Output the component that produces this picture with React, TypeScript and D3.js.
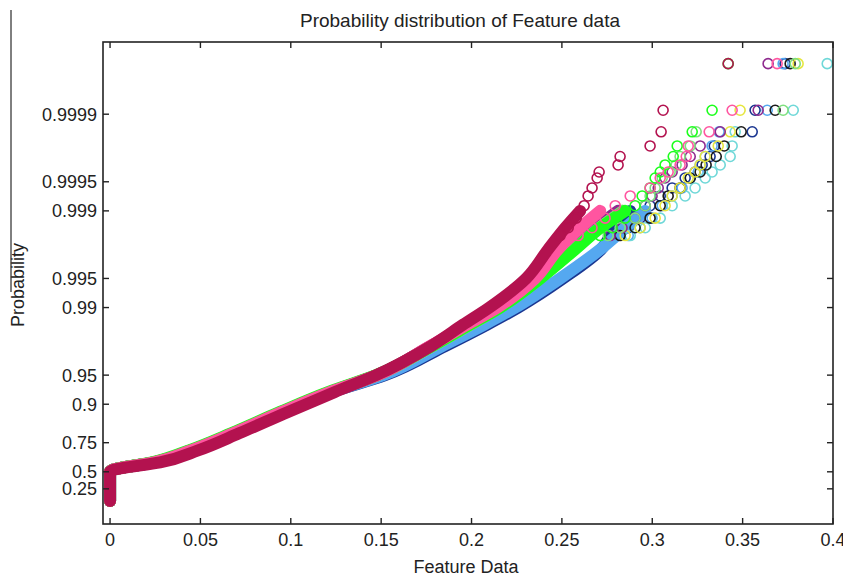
import React from 'react';
import * as d3 from 'd3';

const W = 843;
const H = 576;
const plot = { left: 103, right: 833, top: 42, bottom: 524 };

const bodyProbs = [0.0001, 0.5, 0.52, 0.6, 0.7, 0.8, 0.88, 0.925, 0.95, 0.975, 0.985, 0.99, 0.995, 0.9975, 0.9985, 0.999];
// plotting positions of the largest samples (rank 1,2,3,4,5,6,7,8,10,12,15,20,25,30)
const tailProbs = [0.99997, 0.999909, 0.999848, 0.999787, 0.999726, 0.999665, 0.999604, 0.999543, 0.999421, 0.999299, 0.999116, 0.998811, 0.998506, 0.998201];

const xTicks = [0, 0.05, 0.1, 0.15, 0.2, 0.25, 0.3, 0.35, 0.4];
const xTickLabels = ['0', '0.05', '0.1', '0.15', '0.2', '0.25', '0.3', '0.35', '0.4'];
const yTicks = [0.25, 0.5, 0.75, 0.9, 0.95, 0.99, 0.995, 0.999, 0.9995, 0.9999];
const yTickLabels = ['0.25', '0.5', '0.75', '0.9', '0.95', '0.99', '0.995', '0.999', '0.9995', '0.9999'];

const seriesNames = ['navy', 'lightblue', 'cyan', 'black', 'yellow', 'purple', 'lightgreen', 'lime', 'pink', 'crimson'];
const seriesColors = ['#1b3791', '#55a8f0', '#6fd8d8', '#1a1a1a', '#e6e640', '#8e2a8e', '#7fe07f', '#1cff1c', '#ff55a0', '#b3124f'];

const navyBody = [0, 0, 0.0011, 0.0249, 0.0454, 0.0686, 0.0957, 0.1223, 0.1522, 0.1854, 0.2086, 0.2258, 0.2507, 0.2717, 0.2795, 0.2878];
const lightblueBody = [0, 0, 0.0011, 0.0249, 0.0454, 0.0686, 0.0957, 0.1223, 0.1511, 0.1837, 0.207, 0.2241, 0.249, 0.2712, 0.285, 0.2961];
const cyanBody = [0, 0, 0.0011, 0.0243, 0.0448, 0.0681, 0.0952, 0.1217, 0.1478, 0.1782, 0.1987, 0.2147, 0.2369, 0.2557, 0.2701, 0.2833];
const blackBody = [0, 0, 0.0011, 0.0243, 0.0448, 0.0681, 0.0952, 0.1217, 0.1478, 0.1776, 0.1987, 0.2147, 0.2363, 0.2551, 0.2695, 0.2822];
const yellowBody = [0, 0, 0.0011, 0.0243, 0.0448, 0.0681, 0.0952, 0.1217, 0.1478, 0.1782, 0.1992, 0.2153, 0.2374, 0.2562, 0.2701, 0.2833];
const purpleBody = [0, 0, 0.0011, 0.0243, 0.0448, 0.0681, 0.0952, 0.1217, 0.1478, 0.1776, 0.1981, 0.2142, 0.2357, 0.2546, 0.2684, 0.2811];
const lightgreenBody = [0, 0, 0.0011, 0.0243, 0.0448, 0.0681, 0.0952, 0.1217, 0.1478, 0.1782, 0.1992, 0.2153, 0.2374, 0.2568, 0.2706, 0.2839];
const limeBody = [0, 0, 0.0011, 0.0232, 0.0437, 0.067, 0.0941, 0.1206, 0.1472, 0.1782, 0.1992, 0.2158, 0.238, 0.2573, 0.2712, 0.285];
const pinkBody = [0, 0, 0.0011, 0.0243, 0.0448, 0.0681, 0.0952, 0.1217, 0.1478, 0.1771, 0.1976, 0.2142, 0.2352, 0.2479, 0.2601, 0.2712];
const crimsonBody = [0, 0, 0.0017, 0.0277, 0.0487, 0.0714, 0.0985, 0.1242, 0.1472, 0.1776, 0.1954, 0.2098, 0.2302, 0.2424, 0.2518, 0.2601];

const navyTail = [0.3735, 0.3569, 0.3553, 0.3343, 0.332, 0.3276, 0.3237, 0.3182, 0.311, 0.3044, 0.2988, 0.2933, 0.2867, 0.2795];
const lightblueTail = [0.3724, 0.3636, 0.337, 0.3331, 0.3293, 0.3265, 0.3254, 0.321, 0.3165, 0.311, 0.3055, 0.2999, 0.2933, 0.2867];
const cyanTail = [0.3968, 0.378, 0.3459, 0.3442, 0.3431, 0.3376, 0.3331, 0.3293, 0.3237, 0.3182, 0.311, 0.3044, 0.2961, 0.2878];
const blackTail = [0.3763, 0.368, 0.3492, 0.3398, 0.3354, 0.3298, 0.3265, 0.321, 0.3154, 0.3088, 0.3044, 0.2988, 0.2905, 0.2822];
const yellowTail = [0.3807, 0.3486, 0.3431, 0.3365, 0.3293, 0.3265, 0.3237, 0.3199, 0.3154, 0.311, 0.3071, 0.3016, 0.2933, 0.285];
const purpleTail = [0.3641, 0.3586, 0.3376, 0.3265, 0.321, 0.3165, 0.311, 0.3071, 0.3033, 0.2999, 0.2961, 0.2905, 0.2833, 0.2767];
const lightgreenTail = [0.3791, 0.3724, 0.3243, 0.321, 0.3154, 0.3132, 0.3099, 0.3055, 0.3016, 0.2988, 0.2961, 0.2905, 0.2822, 0.2756];
const limeTail = [0.342, 0.3331, 0.3221, 0.3138, 0.3116, 0.3071, 0.3044, 0.3016, 0.2988, 0.2944, 0.2905, 0.285, 0.2778, 0.2712];
const pinkTail = [0.3691, 0.3442, 0.3315, 0.3199, 0.3188, 0.3154, 0.3088, 0.3044, 0.2988, 0.2878, 0.2795, 0.2739, 0.2667, 0.259];
const crimsonTail = [0.342, 0.306, 0.3049, 0.2988, 0.2822, 0.2811, 0.2706, 0.2695, 0.2667, 0.2645, 0.2623, 0.2579, 0.2535, 0.249];

const bodies = [navyBody, lightblueBody, cyanBody, blackBody, yellowBody, purpleBody, lightgreenBody, limeBody, pinkBody, crimsonBody];
const tails = [navyTail, lightblueTail, cyanTail, blackTail, yellowTail, purpleTail, lightgreenTail, limeTail, pinkTail, crimsonTail];

const font = '"Liberation Sans", Arial, sans-serif';

// exponential probability paper: linear in -ln(1-p)
const probT = (p: number) => -Math.log(1 - p);

export default function App() {
  const x = d3.scaleLinear().domain([-0.0039, 0.4]).range([plot.left, plot.right]);
  const yT = d3.scaleLinear().domain([-0.55, 10.93]).range([plot.bottom, plot.top]);
  const y = (p: number) => yT(probT(p));

  const line = d3.line<[number, number]>()
    .x(d => x(d[0]))
    .y(d => y(d[1]))
    .curve(d3.curveMonotoneY);

  const tick = 6;

  return (
    <svg width={W} height={H} style={{ position: 'absolute', left: 0, top: 0, background: '#fff' }}>
      <rect x={0} y={0} width={W} height={H} fill="#fff" />
      <line x1={11} x2={11} y1={10} y2={292} stroke="#000" strokeWidth={1} />

      <g>
        {seriesNames.map((name, i) => {
          const pts: [number, number][] = bodies[i].map((v, j) => [v, bodyProbs[j]]);
          return (
            <g key={name}>
              <path d={line(pts) || ''} fill="none" stroke={seriesColors[i]} strokeWidth={12}
                strokeLinecap="round" strokeLinejoin="round" />
              {tails[i].map((v, j) => (
                <circle key={j} cx={x(v)} cy={y(tailProbs[j])} r={5}
                  fill="none" stroke={seriesColors[i]} strokeWidth={1.6} />
              ))}
            </g>
          );
        })}
      </g>

      <rect x={plot.left} y={plot.top} width={plot.right - plot.left} height={plot.bottom - plot.top}
        fill="none" stroke="#222" strokeWidth={1.6} />

      {xTicks.map((t, i) => (
        <g key={'x' + i}>
          <line x1={x(t)} x2={x(t)} y1={plot.bottom} y2={plot.bottom - tick} stroke="#222" strokeWidth={1.4} />
          <line x1={x(t)} x2={x(t)} y1={plot.top} y2={plot.top + tick} stroke="#222" strokeWidth={1.4} />
          <text x={x(t)} y={546} textAnchor="middle" fontFamily={font} fontSize={18} fill="#222">{xTickLabels[i]}</text>
        </g>
      ))}

      {yTicks.map((t, i) => (
        <g key={'y' + i}>
          <line x1={plot.left} x2={plot.left + tick} y1={y(t)} y2={y(t)} stroke="#222" strokeWidth={1.4} />
          <line x1={plot.right} x2={plot.right - tick} y1={y(t)} y2={y(t)} stroke="#222" strokeWidth={1.4} />
          <text x={97} y={y(t)} dy="0.36em" textAnchor="end" fontFamily={font} fontSize={18} fill="#222">{yTickLabels[i]}</text>
        </g>
      ))}

      <text x={460} y={27} textAnchor="middle" fontFamily={font} fontSize={19} fill="#222">
        Probability distribution of Feature data
      </text>
      <text x={466} y={573} textAnchor="middle" fontFamily={font} fontSize={18} fill="#222">Feature Data</text>
      <text transform="translate(24,285) rotate(-90)" textAnchor="middle" fontFamily={font} fontSize={18} fill="#222">
        Probability
      </text>
    </svg>
  );
}
